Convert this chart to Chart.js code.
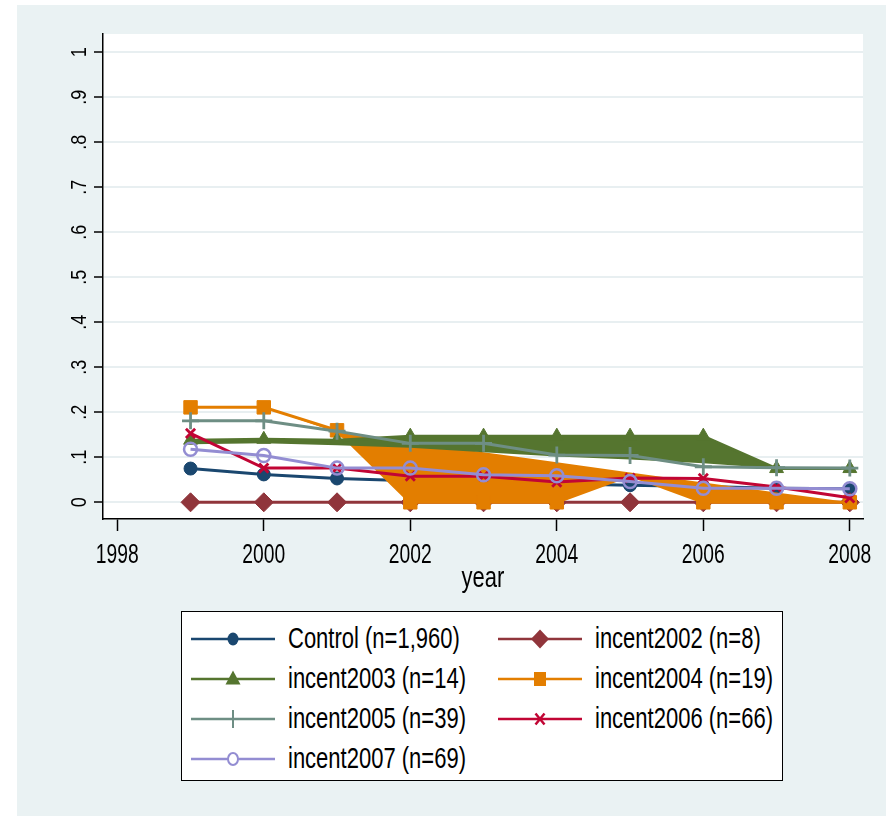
<!DOCTYPE html>
<html>
<head>
<meta charset="utf-8">
<script src="https://cdn.jsdelivr.net/npm/chart.js@4"></script>
<style>
  body { margin: 0; background: #fff; }
  #wrap { position: relative; width: 890px; height: 816px; overflow: hidden; }
  #myChart { position: absolute; left: 0; top: 0; }
  #legend {
    position: absolute; left: 181px; top: 611px; width: 600px; height: 168px;
    border: 1.5px solid #000; background: #fff; color: #000;
    font-family: 'Liberation Sans', Arial, sans-serif; font-size: 22px;
  }
  .item { position: absolute; height: 40px; display: flex; align-items: center; white-space: nowrap; }
  .item svg { flex: none; margin-right: 13px; }
  .item span { display: inline-block; transform: scaleY(1.3); transform-origin: left center; }
</style>
</head>
<body>
<div id="wrap">
  <canvas id="myChart" width="890" height="816"></canvas>
  <div id="legend"></div>
</div>
<script>
// data
const years = [1999, 2000, 2001, 2002, 2003, 2004, 2005, 2006, 2007, 2008];
const control    = [0.075, 0.062, 0.053, 0.048, 0.044, 0.041, 0.038, 0.035, 0.031, 0.030];
const incent2002 = [0, 0, 0, 0, 0, 0, 0, 0, 0, 0];
const incent2003 = [0.138, 0.140, 0.138, 0.147, 0.147, 0.147, 0.147, 0.147, 0.075, 0.075];
const incent2004 = [0.211, 0.211, 0.160, 0, 0, 0, 0.060, 0, 0, 0];
const incent2005 = [0.181, 0.181, 0.158, 0.131, 0.131, 0.105, 0.104, 0.079, 0.077, 0.076];
const incent2006 = [0.153, 0.076, 0.076, 0.058, 0.058, 0.045, 0.054, 0.053, 0.034, 0.010];
const incent2007 = [0.118, 0.104, 0.076, 0.076, 0.061, 0.059, 0.046, 0.031, 0.031, 0.030];
// edges of the shaded bands
const incent2003Edge = [0.129, 0.131, 0.127, 0.121, 0.111, 0.102, 0.095, 0.087, 0.075, 0.075];
const incent2004Edge = [0.211, 0.211, 0.155, 0.133, 0.111, 0.089, 0.066, 0.044, 0.022, 0];

const xTicks = [1998, 2000, 2002, 2004, 2006, 2008];
const yTicks = [0, 0.1, 0.2, 0.3, 0.4, 0.5, 0.6, 0.7, 0.8, 0.9, 1];
const yLabels = ['0', '.1', '.2', '.3', '.4', '.5', '.6', '.7', '.8', '.9', '1'];
const xTitle = 'year';

const names = ['Control (n=1,960)', 'incent2002 (n=8)', 'incent2003 (n=14)', 'incent2004 (n=19)',
  'incent2005 (n=39)', 'incent2006 (n=66)', 'incent2007 (n=69)'];
const colors = ['#1a476f', '#90353b', '#55752f', '#e37e00', '#6e8e84', '#c10534', '#938dd2'];

const FONT = "'Liberation Sans', Arial, sans-serif";

function pts(arr) {
  return years.map((x, i) => ({ x: x, y: arr[i] }));
}

function series(i, values, style, radius, order) {
  const hollow = style === 'hollow';
  const stroke = style === 'cross' || style === 'crossRot';
  return {
    label: names[i],
    data: pts(values),
    borderColor: colors[i],
    backgroundColor: colors[i],
    borderWidth: 3,
    fill: false,
    tension: 0,
    pointStyle: hollow ? 'circle' : style,
    pointRadius: radius,
    pointBackgroundColor: hollow ? 'rgba(0,0,0,0)' : colors[i],
    pointBorderColor: colors[i],
    pointBorderWidth: hollow ? 2.5 : (stroke ? 2.8 : 1),
    order: order
  };
}

function band(values, target, color, order) {
  return {
    label: 'band',
    data: pts(values),
    borderWidth: 0,
    borderColor: 'rgba(0,0,0,0)',
    pointRadius: 0,
    fill: { target: target, above: color, below: color },
    order: order
  };
}

const datasets = [
  series(0, control, 'circle', 6.5, 20),       // 0
  series(1, incent2002, 'rectRot', 9.5, 19),   // 1
  series(2, incent2003, 'triangle', 8, 15),    // 2
  series(3, incent2004, 'rect', 9.5, 17),      // 3
  series(4, incent2005, 'cross', 8.5, 14),     // 4
  series(5, incent2006, 'crossRot', 6.5, 13),  // 5
  series(6, incent2007, 'hollow', 6.5, 12),    // 6
  band(incent2004Edge, 3, colors[3], 18),      // 7
  band(incent2003Edge, 2, colors[2], 16)       // 8
];
// no square shows at 2005 in the original
datasets[3].pointRadius = years.map(y => (y === 2005 ? 0 : 9.5));

// stata-like backdrop
const backdrop = {
  id: 'backdrop',
  beforeDraw(chart) {
    const { ctx, chartArea: a } = chart;
    ctx.save();
    ctx.fillStyle = '#eaf2f3';
    ctx.fillRect(17, 5, 869, 811);
    ctx.fillStyle = '#ffffff';
    ctx.fillRect(a.left, a.top, a.right - a.left, a.bottom - a.top);
    ctx.restore();
  }
};

// tall narrow axis text, placed from the scales
const axisText = {
  id: 'axisText',
  afterDraw(chart) {
    const { ctx, scales: { x, y } } = chart;
    ctx.save();
    ctx.fillStyle = '#000';
    ctx.textAlign = 'center';
    ctx.textBaseline = 'alphabetic';
    ctx.font = '19.3px ' + FONT;
    xTicks.forEach(v => {
      ctx.save();
      ctx.translate(x.getPixelForValue(v), 563);
      ctx.scale(1, 1.42);
      ctx.fillText(String(v), 0, 0);
      ctx.restore();
    });
    ctx.font = '18px ' + FONT;
    yTicks.forEach((v, i) => {
      ctx.save();
      ctx.translate(85.5, y.getPixelForValue(v));
      ctx.rotate(-Math.PI / 2);
      ctx.scale(1, 1.18);
      ctx.fillText(yLabels[i], 0, 0);
      ctx.restore();
    });
    ctx.font = '22px ' + FONT;
    ctx.save();
    ctx.translate((x.left + x.right) / 2, 587);
    ctx.scale(1, 1.3);
    ctx.fillText(xTitle, 0, 0);
    ctx.restore();
    ctx.restore();
  }
};

const config = {
  type: 'line',
  data: { datasets: datasets },
  options: {
    responsive: false,
    animation: false,
    layout: { padding: { left: 17, right: 27, top: 34, bottom: 217 } },
    plugins: { legend: { display: false }, tooltip: { enabled: false } },
    scales: {
      x: {
        type: 'linear',
        min: 1997.805,
        max: 2008.18,
        afterBuildTicks: s => { s.ticks = xTicks.map(v => ({ value: v })); },
        afterFit: s => { s.height = 80; },
        ticks: { display: false },
        grid: { drawOnChartArea: false, tickLength: 12, tickColor: '#000', tickWidth: 1.5 },
        border: { color: '#000', width: 1.5 }
      },
      y: {
        min: -0.0371,
        max: 1.0407,
        afterBuildTicks: s => { s.ticks = yTicks.map(v => ({ value: v })); },
        afterFit: s => { s.width = 86; },
        ticks: { display: false },
        grid: { color: '#e8eff1', lineWidth: 2, tickColor: '#000', tickLength: 9, tickWidth: 1.5 },
        border: { color: '#000', width: 1.5 }
      }
    }
  },
  plugins: [backdrop, axisText]
};

const myChart = new Chart(document.getElementById('myChart'), config);

// legend, two columns like the original
const symbols = ['circle', 'diamond', 'triangle', 'square', 'plus', 'x', 'hollow'];
function markerSvg(kind, c) {
  switch (kind) {
    case 'circle': return `<ellipse cx="42" cy="12" rx="5.5" ry="6.5" fill="${c}"/>`;
    case 'diamond': return `<polygon points="42,2.5 51,12 42,21.5 33,12" fill="${c}"/>`;
    case 'triangle': return `<polygon points="42,3.5 49.5,17.5 34.5,17.5" fill="${c}"/>`;
    case 'square': return `<rect x="36" y="5" width="12" height="14" fill="${c}"/>`;
    case 'plus': return `<path d="M42 3V21M34 12H50" stroke="${c}" stroke-width="2"/>`;
    case 'x': return `<path d="M37.5 6.5L46.5 17.5M46.5 6.5L37.5 17.5" stroke="${c}" stroke-width="2.5"/>`;
    case 'hollow': return `<ellipse cx="42" cy="12" rx="5" ry="6" fill="#fff" stroke="${c}" stroke-width="2"/>`;
  }
}
const legend = document.getElementById('legend');
const rowY = [6.5, 47, 87, 127];
names.forEach((name, i) => {
  const el = document.createElement('div');
  el.className = 'item';
  el.style.left = (i % 2 === 0 ? 9 : 316) + 'px';
  el.style.top = rowY[Math.floor(i / 2)] + 'px';
  el.innerHTML = `<svg width="84" height="24"><line x1="0" y1="12" x2="84" y2="12" stroke="${colors[i]}" stroke-width="2.5"/>${markerSvg(symbols[i], colors[i])}</svg><span>${name}</span>`;
  legend.appendChild(el);
});
</script>
</body>
</html>
